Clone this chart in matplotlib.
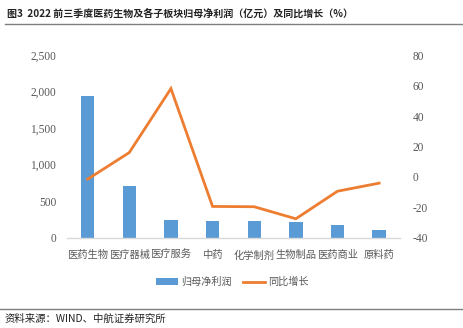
import numpy as np
import matplotlib
matplotlib.use('Agg')
import matplotlib.pyplot as plt
from matplotlib.lines import Line2D
from matplotlib.patches import Patch

plt.rcParams['font.family'] = ['Noto Sans CJK SC', 'DejaVu Sans']

# Donnees
categories = ['医药生物', '医疗器械', '医疗服务', '中药', '化学制剂', '生物制品', '医药商业', '原料药']
profit = [1944, 707, 246, 232, 228, 219, 169, 105]       # 亿元
growth = [-1.5, 16.0, 58.0, -19.4, -19.6, -27.5, -9.4, -4.1]  # %
left_ticks = [0, 500, 1000, 1500, 2000, 2500]
right_ticks = [-40, -20, 0, 20, 40, 60, 80]

bar_color = '#5B9BD5'
line_color = '#ED7D31'
grey = '#595959'

fig = plt.figure(figsize=(4.64, 3.28), dpi=100)
ax = fig.add_axes([0.144, 0.275, 0.718, 0.557])
ax2 = ax.twinx()

x = np.arange(len(categories))
ax.bar(x, profit, width=0.32, color=bar_color, zorder=2)
ax2.plot(x, growth, color=line_color, linewidth=2, solid_joinstyle='miter')

ax.set_xlim(-0.5, len(categories) - 0.5)
ax.set_ylim(0, 2500)
ax2.set_ylim(-40, 80)

ax.set_yticks(left_ticks)
ax.set_yticklabels([f'{v:,}' for v in left_ticks], family='Liberation Serif', fontsize=8.3, color=grey)
ax2.set_yticks(right_ticks)
ax2.set_yticklabels([str(v) for v in right_ticks], family='Liberation Serif', fontsize=8.3, color=grey)
ax.set_xticks(x)
ax.set_xticklabels(categories, fontsize=7.4, color=grey)

ax.tick_params(axis='y', length=0, pad=7.5)
ax2.tick_params(axis='y', length=0, pad=9)
ax.tick_params(axis='x', length=0, pad=9)

for a in (ax, ax2):
    for s in ('top', 'left', 'right', 'bottom'):
        a.spines[s].set_visible(False)
ax.spines['bottom'].set_visible(True)
ax.spines['bottom'].set_color('#D9D9D9')
ax.spines['bottom'].set_linewidth(1)

# Legende
handles = [Patch(facecolor=bar_color, label='归母净利润'),
           Line2D([0], [0], color=line_color, linewidth=2, label='同比增长')]
fig.legend(handles=handles, loc='center', bbox_to_anchor=(0.50, 0.14), ncol=2,
           frameon=False, fontsize=7.3, labelcolor=grey, handlelength=2.2,
           handleheight=0.7, handletextpad=0.3, columnspacing=1.1)

# Titre et source
fig.text(0.015, 0.975, '图3  2022 前三季度医药生物及各子板块归母净利润（亿元）及同比增长（%）',
         fontsize=7.2, fontweight='bold', va='top', ha='left', color='#222222')
fig.add_artist(Line2D([0.011, 1.0], [0.926, 0.926], color='#7F7F7F', linewidth=1))
fig.add_artist(Line2D([0.0, 1.0], [0.058, 0.058], color='#7F7F7F', linewidth=1))
fig.text(0.009, 0.027, '资料来源：WIND、中航证券研究所', fontsize=7.5, va='center', ha='left', color='#222222')

fig.savefig('out.png', dpi=100)
